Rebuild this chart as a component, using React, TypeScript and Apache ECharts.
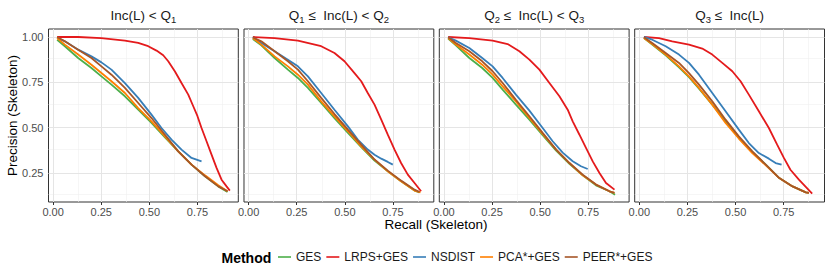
import React, { useEffect, useRef } from "react";
import * as echarts from "echarts";

const methods = ["GES", "LRPS+GES", "NSDIST", "PCA*+GES", "PEER*+GES"];
const methodColors = ["#4daf4a", "#e41a1c", "#377eb8", "#ff7f00", "#a65628"];

const panelTitles = [
  "Inc(L) < Q{s|1}",
  "Q{s|1} ≤  Inc(L) < Q{s|2}",
  "Q{s|2} ≤  Inc(L) < Q{s|3}",
  "Q{s|3} ≤  Inc(L)",
];

const xTicks = [0, 0.25, 0.5, 0.75];
const xMinor = [0.125, 0.375, 0.625, 0.875];
const yTicks = [0.25, 0.5, 0.75, 1.0];
const yMinor = [0.125, 0.375, 0.625, 0.875];

// Panel 1: Inc(L) < Q1
const p1GES = [[0.021,0.985],[0.061,0.949],[0.13,0.884],[0.199,0.829],[0.251,0.783],[0.303,0.737],[0.373,0.673],[0.442,0.599],[0.511,0.526],[0.581,0.447],[0.65,0.369],[0.719,0.296],[0.789,0.232],[0.858,0.176],[0.906,0.145]];
const p1LRPS = [[0.021,1.0],[0.13,1.0],[0.25,0.994],[0.373,0.98],[0.442,0.967],[0.494,0.949],[0.537,0.925],[0.572,0.899],[0.598,0.866],[0.633,0.81],[0.667,0.746],[0.702,0.682],[0.728,0.618],[0.75,0.563],[0.771,0.498],[0.797,0.425],[0.823,0.351],[0.849,0.278],[0.875,0.213],[0.901,0.176],[0.918,0.153]];
const p1NSDIST = [[0.021,0.996],[0.061,0.976],[0.13,0.93],[0.199,0.893],[0.251,0.86],[0.303,0.82],[0.373,0.746],[0.442,0.664],[0.511,0.572],[0.563,0.498],[0.615,0.434],[0.667,0.379],[0.719,0.333],[0.771,0.314]];
const p1PCA = [[0.021,0.994],[0.061,0.958],[0.13,0.903],[0.199,0.847],[0.251,0.801],[0.303,0.756],[0.373,0.691],[0.442,0.608],[0.511,0.535],[0.581,0.452],[0.65,0.369],[0.719,0.296],[0.789,0.237],[0.858,0.182],[0.906,0.149]];
const p1PEER = [[0.021,1.0],[0.061,0.976],[0.13,0.93],[0.199,0.884],[0.251,0.838],[0.303,0.792],[0.373,0.719],[0.442,0.636],[0.511,0.553],[0.581,0.461],[0.65,0.369],[0.719,0.296],[0.789,0.232],[0.858,0.176],[0.906,0.149]];

// Panel 2: Q1 <= Inc(L) < Q2
const p2GES = [[0.022,0.989],[0.066,0.954],[0.135,0.884],[0.204,0.82],[0.256,0.774],[0.308,0.719],[0.377,0.636],[0.446,0.553],[0.516,0.471],[0.585,0.392],[0.654,0.318],[0.723,0.259],[0.792,0.204],[0.862,0.153],[0.888,0.143]];
const p2LRPS = [[0.022,1.0],[0.135,0.994],[0.256,0.98],[0.377,0.949],[0.446,0.912],[0.498,0.866],[0.55,0.801],[0.585,0.756],[0.619,0.691],[0.654,0.627],[0.689,0.544],[0.723,0.461],[0.758,0.379],[0.792,0.305],[0.827,0.241],[0.862,0.195],[0.896,0.149]];
const p2NSDIST = [[0.022,0.998],[0.066,0.967],[0.135,0.921],[0.204,0.875],[0.256,0.838],[0.308,0.783],[0.377,0.691],[0.446,0.599],[0.516,0.507],[0.567,0.434],[0.619,0.379],[0.654,0.351],[0.689,0.329],[0.723,0.311],[0.749,0.296]];
const p2PCA = [[0.022,0.994],[0.066,0.958],[0.135,0.893],[0.204,0.838],[0.256,0.792],[0.308,0.737],[0.377,0.645],[0.446,0.562],[0.516,0.48],[0.585,0.397],[0.654,0.324],[0.723,0.259],[0.792,0.204],[0.862,0.153],[0.893,0.143]];
const p2PEER = [[0.022,0.998],[0.066,0.976],[0.135,0.921],[0.204,0.866],[0.256,0.82],[0.308,0.756],[0.377,0.664],[0.446,0.575],[0.516,0.489],[0.585,0.406],[0.654,0.324],[0.723,0.263],[0.792,0.208],[0.862,0.158],[0.888,0.145]];

// Panel 3: Q2 <= Inc(L) < Q3
const p3GES = [[0.022,0.991],[0.062,0.954],[0.132,0.884],[0.199,0.829],[0.253,0.774],[0.305,0.71],[0.374,0.627],[0.444,0.544],[0.513,0.458],[0.583,0.373],[0.652,0.3],[0.721,0.237],[0.79,0.182],[0.86,0.149],[0.889,0.13]];
const p3LRPS = [[0.022,1.0],[0.132,0.994],[0.253,0.98],[0.331,0.961],[0.392,0.921],[0.444,0.875],[0.496,0.82],[0.548,0.746],[0.6,0.673],[0.643,0.599],[0.669,0.535],[0.704,0.461],[0.738,0.388],[0.773,0.314],[0.808,0.25],[0.842,0.195],[0.886,0.158]];
const p3NSDIST = [[0.022,0.998],[0.062,0.98],[0.132,0.939],[0.199,0.884],[0.253,0.838],[0.305,0.774],[0.374,0.682],[0.444,0.594],[0.513,0.498],[0.565,0.425],[0.617,0.362],[0.669,0.315],[0.712,0.287],[0.747,0.272]];
const p3PCA = [[0.022,0.994],[0.062,0.958],[0.132,0.903],[0.199,0.847],[0.253,0.792],[0.305,0.728],[0.374,0.645],[0.444,0.553],[0.513,0.465],[0.583,0.379],[0.652,0.305],[0.721,0.237],[0.79,0.186],[0.86,0.149],[0.886,0.14]];
const p3PEER = [[0.022,0.998],[0.062,0.967],[0.132,0.921],[0.199,0.866],[0.253,0.811],[0.305,0.746],[0.374,0.654],[0.444,0.563],[0.513,0.471],[0.583,0.379],[0.652,0.305],[0.721,0.241],[0.79,0.186],[0.86,0.149],[0.886,0.14]];

// Panel 4: Q3 <= Inc(L)
const p4GES = [[0.024,0.994],[0.067,0.958],[0.137,0.899],[0.206,0.833],[0.258,0.778],[0.31,0.715],[0.379,0.627],[0.448,0.535],[0.517,0.443],[0.587,0.366],[0.657,0.296],[0.727,0.222],[0.796,0.176],[0.865,0.143],[0.881,0.14]];
const p4LRPS = [[0.024,1.0],[0.102,0.994],[0.171,0.976],[0.258,0.958],[0.327,0.936],[0.379,0.903],[0.431,0.857],[0.483,0.811],[0.526,0.756],[0.569,0.682],[0.621,0.59],[0.673,0.498],[0.716,0.406],[0.751,0.333],[0.785,0.268],[0.829,0.213],[0.898,0.136]];
const p4NSDIST = [[0.024,1.0],[0.067,0.985],[0.137,0.949],[0.206,0.903],[0.258,0.857],[0.31,0.792],[0.379,0.691],[0.448,0.59],[0.517,0.489],[0.569,0.415],[0.621,0.36],[0.673,0.329],[0.708,0.305],[0.739,0.296]];
const p4PCA = [[0.024,0.994],[0.067,0.961],[0.137,0.903],[0.206,0.838],[0.258,0.783],[0.31,0.719],[0.379,0.627],[0.448,0.526],[0.517,0.44],[0.587,0.36],[0.657,0.292],[0.727,0.222],[0.796,0.176],[0.865,0.143],[0.881,0.14]];
const p4PEER = [[0.024,0.998],[0.067,0.967],[0.137,0.912],[0.206,0.857],[0.258,0.801],[0.31,0.737],[0.379,0.645],[0.448,0.544],[0.517,0.452],[0.587,0.369],[0.657,0.296],[0.727,0.222],[0.796,0.176],[0.865,0.143],[0.881,0.14]];

const panelData = [
  [p1GES, p1LRPS, p1NSDIST, p1PCA, p1PEER],
  [p2GES, p2LRPS, p2NSDIST, p2PCA, p2PEER],
  [p3GES, p3LRPS, p3NSDIST, p3PCA, p3PEER],
  [p4GES, p4LRPS, p4NSDIST, p4PCA, p4PEER],
];

const FONT = "'Liberation Sans', Arial, Helvetica, sans-serif";

export default function App() {
  const ref = useRef<HTMLDivElement>(null);
  useEffect(() => {
    document.body.style.margin = "0";
    const chart = echarts.init(ref.current!, null, { renderer: "svg" });
    const panelLeft = [48.5, 244, 439.3, 634.7];
    const panelW = 189.8;
    const top = 29;
    const height = 173;
    const xMin = -0.024, xMax = 0.962, yMin = 0.09, yMax = 1.044;

    const grids: any[] = [];
    const xAxes: any[] = [];
    const yAxes: any[] = [];
    const series: any[] = [];
    const graphics: any[] = [];

    panelLeft.forEach((left, i) => {
      grids.push({
        left, top, width: panelW, height,
        show: true, borderColor: "#333333", borderWidth: 1,
        backgroundColor: "transparent", containLabel: false, z: 0,
      });
      xAxes.push({
        gridIndex: i, type: "value", min: xMin, max: xMax,
        axisLine: { show: false },
        splitLine: { show: false },
        axisTick: { show: true, customValues: xTicks, length: 3, lineStyle: { color: "#333333", width: 1 } },
        axisLabel: {
          show: true, customValues: xTicks, margin: 4,
          formatter: (v: number) => v.toFixed(2),
          fontSize: 11, color: "#4d4d4d", fontFamily: FONT,
        },
      });
      yAxes.push({
        gridIndex: i, type: "value", min: yMin, max: yMax,
        axisLine: { show: false },
        splitLine: { show: false },
        axisTick: { show: i === 0, customValues: yTicks, length: 3, lineStyle: { color: "#333333", width: 1 } },
        axisLabel: {
          show: i === 0, customValues: yTicks, margin: 5,
          formatter: (v: number) => v.toFixed(2),
          fontSize: 11, color: "#4d4d4d", fontFamily: FONT,
        },
      });
      const gridLines: any[] = [];
      xMinor.forEach((v) => gridLines.push({ xAxis: v, lineStyle: { color: "#f0f0f0", width: 0.6, type: "solid" } }));
      yMinor.forEach((v) => gridLines.push({ yAxis: v, lineStyle: { color: "#f0f0f0", width: 0.6, type: "solid" } }));
      xTicks.forEach((v) => gridLines.push({ xAxis: v, lineStyle: { color: "#e5e5e5", width: 1, type: "solid" } }));
      yTicks.forEach((v) => gridLines.push({ yAxis: v, lineStyle: { color: "#e5e5e5", width: 1, type: "solid" } }));
      series.push({
        type: "line", xAxisIndex: i, yAxisIndex: i, data: [], z: 1, silent: true,
        markLine: { z: 1, silent: true, symbol: ["none", "none"], label: { show: false }, data: gridLines, animation: false },
      });
      methods.forEach((m, k) => {
        series.push({
          name: m, type: "line", xAxisIndex: i, yAxisIndex: i,
          data: panelData[i][k], showSymbol: false, symbol: "none", z: 6 + k,
          lineStyle: { color: methodColors[k], width: 1.8 },
          itemStyle: { color: methodColors[k] },
        });
      });
      graphics.push({
        type: "text", x: left + panelW / 2, y: 15,
        style: {
          text: panelTitles[i], align: "center", verticalAlign: "middle",
          fontSize: 13.5, lineHeight: 18, fontFamily: FONT, fill: "#1a1a1a",
          rich: { s: { fontSize: 9.5, lineHeight: 9, verticalAlign: "bottom", fontFamily: FONT, fill: "#1a1a1a" } },
        },
      });
    });

    graphics.push({
      type: "text", x: 436, y: 224,
      style: { text: "Recall (Skeleton)", align: "center", verticalAlign: "middle", fontSize: 13.5, fontFamily: FONT, fill: "#000" },
    });
    graphics.push({
      type: "text", x: 12, y: 115.5, rotation: Math.PI / 2,
      style: { text: "Precision (Skeleton)", align: "center", verticalAlign: "middle", fontSize: 13.5, fontFamily: FONT, fill: "#000" },
    });
    graphics.push({
      type: "text", x: 221.5, y: 258,
      style: { text: "Method", align: "left", verticalAlign: "middle", fontSize: 14, fontWeight: "bold", fontFamily: FONT, fill: "#000" },
    });

    chart.setOption({
      animation: false,
      grid: grids,
      xAxis: xAxes,
      yAxis: yAxes,
      series,
      graphic: graphics,
      legend: {
        data: methods, left: 278, top: 251, padding: 0,
        icon: "rect", itemWidth: 13, itemHeight: 1.6, itemGap: 5,
        selectedMode: false,
        textStyle: { fontSize: 12, color: "#1a1a1a", fontFamily: FONT },
      },
    });
    return () => chart.dispose();
  }, []);
  return <div ref={ref} style={{ width: 830, height: 277 }} />;
}
